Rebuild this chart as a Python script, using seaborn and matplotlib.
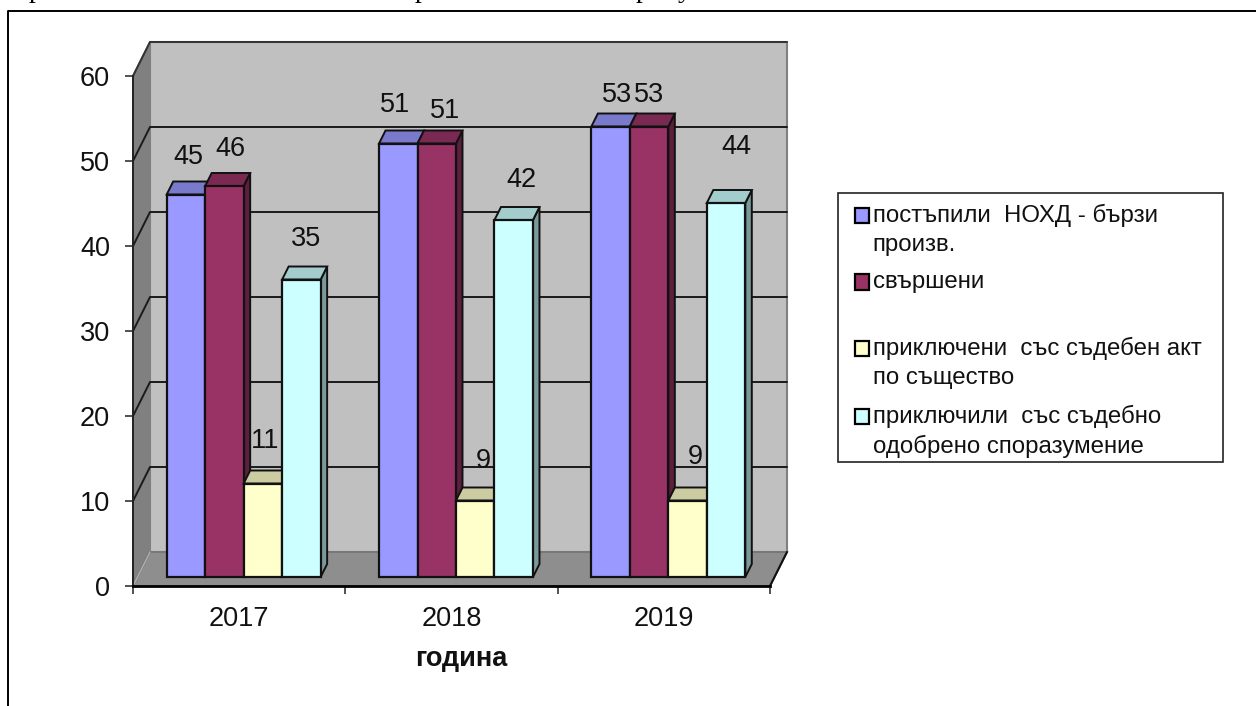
import pandas as pd
import numpy as np
import matplotlib
matplotlib.use('Agg')
import matplotlib.pyplot as plt
import seaborn as sns
from matplotlib.legend_handler import HandlerPatch
from matplotlib.lines import Line2D
from matplotlib.patches import Polygon, Rectangle
from matplotlib.transforms import Affine2D

# Values
years = ['2017', '2018', '2019']
series_names = [
    'постъпили  НОХД - бързи\nпроизв.',
    'свършени\n ',
    'приключени  със съдебен акт\nпо същество',
    'приключили  със съдебно\nодобрено споразумение',
]
received = [45, 51, 53]
finished = [46, 51, 53]
closed_act = [11, 9, 9]
closed_agreement = [35, 42, 44]

# Front, top and side colours per series
front_colors = ['#9999FF', '#993366', '#FFFFCC', '#CCFFFF']
top_colors = ['#7A7ACC', '#7A2952', '#CCCCA3', '#A3CCCC']
side_colors = ['#5C5C99', '#5C1F3D', '#99997A', '#7A9999']

# Excel moved the labels by hand, offsets in pixels from the bar top (per year, per series)
label_offsets = [
    [(2, 38), (-3.5, 39), (6, 31)],
    [(6.5, 37), (8, 32), (0.5, 31)],
    [(2, 42), (8.5, 39.5), (8, 43.5)],
    [(4.5, 41), (8, 40), (10.5, 56)],
]

WIDTH, HEIGHT = 1256, 706
DPI = 100
WALL_DX, WALL_DY = 17, 34     # depth of the whole box
BAR_DX, BAR_DY = 4.5, 9       # bars stand a bit inside the box
CAP_DX, CAP_DY = 6.5, 13      # depth of one bar
FONT_SIZE = 19.5

df = pd.DataFrame({
    'year': years * 4,
    'series': np.repeat(series_names, 3),
    'value': received + finished + closed_act + closed_agreement,
})

sns.set_theme(style='white')
plt.rcParams['font.family'] = ['Liberation Sans', 'DejaVu Sans']

fig = plt.figure(figsize=(WIDTH / DPI, HEIGHT / DPI), dpi=DPI)
ax = fig.add_axes([133 / WIDTH, (HEIGHT - 586) / HEIGHT, 637 / WIDTH, 510 / HEIGHT])
ax.patch.set_visible(False)

sns.barplot(data=df, x='year', y='value', hue='series', hue_order=series_names,
            palette=front_colors, width=0.725, gap=0, saturation=1,
            edgecolor='#111111', linewidth=1.6, legend=False, ax=ax)
ax.set_xlim(-0.5, 2.5)
ax.set_ylim(0, 60)


def to_px(x, y, dx=0, dy=0):
    # data position to pixels, plus a depth shift
    px = ax.transData.transform((x, y))
    return (px[0] + dx, px[1] + dy)


def add_poly(points, color, edge='#111111', lw=1.4, z=1):
    ax.add_patch(Polygon(points, closed=True, facecolor=color, edgecolor=edge, linewidth=lw,
                         transform=None, clip_on=False, zorder=z))


# Box: side wall, back wall, floor
add_poly([to_px(-0.5, 0), to_px(-0.5, 0, WALL_DX, WALL_DY),
          to_px(-0.5, 60, WALL_DX, WALL_DY), to_px(-0.5, 60)], '#808080', edge='#707070', z=0.5)
add_poly([to_px(-0.5, 0, WALL_DX, WALL_DY), to_px(2.5, 0, WALL_DX, WALL_DY),
          to_px(2.5, 60, WALL_DX, WALL_DY), to_px(-0.5, 60, WALL_DX, WALL_DY)], '#C0C0C0',
         edge='#808080', lw=1.5, z=0.5)
add_poly([to_px(-0.5, 0), to_px(2.5, 0),
          to_px(2.5, 0, WALL_DX, WALL_DY), to_px(-0.5, 0, WALL_DX, WALL_DY)], '#8E8E8E',
         edge='#777777', z=0.6)

# Gridlines on the back wall and over the side wall
for tick in range(10, 60, 10):
    back_left = to_px(-0.5, tick, WALL_DX, WALL_DY)
    back_right = to_px(2.5, tick, WALL_DX, WALL_DY)
    front_left = to_px(-0.5, tick)
    ax.add_line(Line2D([front_left[0], back_left[0], back_right[0]],
                       [front_left[1], back_left[1], back_right[1]],
                       color='#1A1A1A', lw=1.4, transform=None, clip_on=False, zorder=0.7))
left_top = to_px(-0.5, 60)
top_back_left = to_px(-0.5, 60, WALL_DX, WALL_DY)
top_back_right = to_px(2.5, 60, WALL_DX, WALL_DY)
ax.add_line(Line2D([left_top[0], top_back_left[0], top_back_right[0]],
                   [left_top[1], top_back_left[1], top_back_right[1]],
                   color='#333333', lw=1.4, transform=None, clip_on=False, zorder=0.7))
ax.add_line(Line2D([to_px(-0.5, 0)[0], to_px(-0.5, 0, WALL_DX, WALL_DY)[0]],
                   [to_px(-0.5, 0)[1], to_px(-0.5, 0, WALL_DX, WALL_DY)[1]],
                   color='#B0B0B0', lw=1.0, transform=None, clip_on=False, zorder=0.8))
ax.add_line(Line2D([to_px(2.5, 0)[0], to_px(2.5, 0, WALL_DX, WALL_DY)[0]],
                   [to_px(2.5, 0)[1], to_px(2.5, 0, WALL_DX, WALL_DY)[1]],
                   color='#111111', lw=1.5, transform=None, clip_on=False, zorder=0.8))

# Give the seaborn bars depth: shift them in, then add caps and sides
bar_shift = ax.transData + Affine2D().translate(BAR_DX, BAR_DY)
z = 2
for s, container in enumerate(ax.containers):
    for i, bar in enumerate(container.patches):
        x0 = bar.get_x()
        x1 = x0 + bar.get_width()
        h = bar.get_height()
        z += 1
        add_poly([to_px(x1, 0, BAR_DX, BAR_DY), to_px(x1, 0, BAR_DX + CAP_DX, BAR_DY + CAP_DY),
                  to_px(x1, h, BAR_DX + CAP_DX, BAR_DY + CAP_DY), to_px(x1, h, BAR_DX, BAR_DY)],
                 side_colors[s], z=z)
        add_poly([to_px(x0, h, BAR_DX, BAR_DY), to_px(x1, h, BAR_DX, BAR_DY),
                  to_px(x1, h, BAR_DX + CAP_DX, BAR_DY + CAP_DY),
                  to_px(x0, h, BAR_DX + CAP_DX, BAR_DY + CAP_DY)], top_colors[s], z=z)
        bar.set_transform(bar_shift)
        bar.set_clip_on(False)
        bar.set_zorder(z + 0.5)
        ax.annotate(f'{h:.0f}', xy=(x0 + bar.get_width() / 2, h), xycoords=bar_shift,
                    xytext=label_offsets[s][i], textcoords='offset pixels',
                    ha='center', va='center', fontsize=FONT_SIZE, color='#111111',
                    annotation_clip=False, zorder=100)

# Axes
for name in ['top', 'right']:
    ax.spines[name].set_visible(False)
ax.spines['left'].set_color('#222222')
ax.spines['left'].set_linewidth(1.4)
ax.spines['bottom'].set_color('#000000')
ax.spines['bottom'].set_linewidth(2.0)
for spine in ax.spines.values():
    spine.set_zorder(1)
ax.spines['bottom'].set_zorder(200)

ax.set_yticks(range(0, 70, 10))
ax.set_xticks([-0.5, 0.5, 1.5, 2.5], labels=['', '', '', ''])
ax.set_xticks([0, 1, 2], labels=years, minor=True)
ax.tick_params(axis='x', which='major', length=5.5, width=1.1, color='#222222', bottom=True)
ax.tick_params(axis='x', which='minor', length=0, pad=14.5, labelsize=FONT_SIZE, labelcolor='#111111')
ax.tick_params(axis='y', length=5.5, width=1.1, color='#222222', left=True, pad=11,
               labelsize=FONT_SIZE, labelcolor='#111111')
ax.set_ylabel('')
ax.set_xlabel('година', fontsize=FONT_SIZE, fontweight='bold', color='#111111')
ax.xaxis.set_label_coords((461 - 133) / 637, -(646 - 586) / 510)
ax.xaxis.label.set_verticalalignment('top')


def shifted_square(legend, orig_handle, xdescent, ydescent, width, height, fontsize):
    # marker sits on the first line of the two line label
    return Rectangle((-xdescent, -ydescent + 10.4), width, height)


# Legend box has uneven margins, so the frame is drawn on its own
fig.add_artist(Rectangle((838 / WIDTH, (HEIGHT - 462) / HEIGHT), 385 / WIDTH, 269 / HEIGHT,
                         facecolor='white', edgecolor='#222222', linewidth=1.2,
                         transform=fig.transFigure))
handles = [Rectangle((0, 0), 1, 1, facecolor=c, edgecolor='#000000', linewidth=1.6)
           for c in front_colors]
leg = fig.legend(handles, series_names, loc='upper left',
                 bbox_to_anchor=(854.5 / WIDTH, (HEIGHT - 204) / HEIGHT), bbox_transform=fig.transFigure,
                 handler_map={Rectangle: HandlerPatch(patch_func=shifted_square)},
                 prop={'size': 17.3}, frameon=False,
                 handlelength=0.6, handleheight=0.6, handletextpad=0.15,
                 labelspacing=0.65, borderaxespad=0, borderpad=0, labelcolor='#111111')
for txt in leg.get_texts():
    txt.set_linespacing(1.38)

# Page frame around the pasted chart
fig.add_artist(Line2D([8 / WIDTH, 8 / WIDTH, 1], [0, (HEIGHT - 10.5) / HEIGHT, (HEIGHT - 10.5) / HEIGHT],
                      color='#000000', lw=1.4, transform=fig.transFigure))

# Tails of the line of text cut off above the chart
for letter, x_pos in [('р', 36), ('р', 422), ('р', 643), ('у', 685)]:
    fig.text(x_pos / WIDTH, (HEIGHT + 3) / HEIGHT, letter, family='Liberation Serif', fontsize=20,
             ha='center', va='baseline', color='#000000')

fig.savefig('out.png', dpi=DPI, facecolor='white')
plt.close(fig)
